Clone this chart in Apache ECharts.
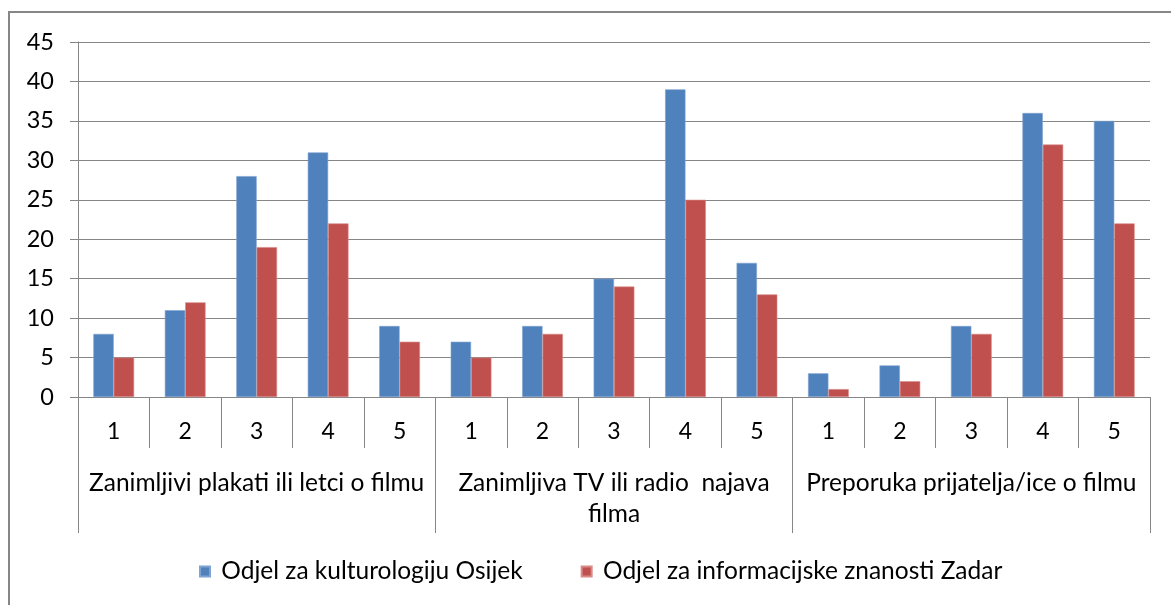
<!DOCTYPE html>
<html>
<head>
<meta charset="utf-8">
<script src="https://cdn.jsdelivr.net/npm/echarts@6/dist/echarts.min.js"></script>
<style>
  html, body { margin: 0; padding: 0; background: #fff; }
  #chart { width: 1171px; height: 605px; }
</style>
</head>
<body>
<div id="chart"></div>
<script>
// Rating categories (1-5) within each question group
const ratings = ['1', '2', '3', '4', '5'];
const groups = [
  'Zanimljivi plakati ili letci o filmu',
  'Zanimljiva TV ili radio  najava\nfilma',
  'Preporuka prijatelja/ice o filmu'
];
const seriesNames = [
  'Odjel za kulturologiju Osijek',
  'Odjel za informacijske znanosti Zadar'
];
// Counts per group, ratings 1..5
const osijek = [8, 11, 28, 31, 9, 7, 9, 15, 39, 17, 3, 4, 9, 36, 35];
const zadar = [5, 12, 19, 22, 7, 5, 8, 14, 25, 13, 1, 2, 8, 32, 22];
const yTicks = { min: 0, max: 45, interval: 5 };

const categories = [];
groups.forEach(() => ratings.forEach(r => categories.push(r)));

const FONT = 'Lato';
const AXIS_GRAY = '#868686';

const chart = echarts.init(document.getElementById('chart'), null, { renderer: 'canvas' });
chart.setOption({
  animation: false,
  textStyle: { fontFamily: FONT, color: '#000' },
  graphic: [{
    type: 'rect',
    shape: { x: 9, y: 12, width: 1220, height: 700 },
    style: { fill: 'none', stroke: AXIS_GRAY, lineWidth: 2 },
    silent: true
  }],
  grid: { left: 78, right: 21, top: 42, bottom: 208, containLabel: false },
  legend: {
    data: seriesNames,
    left: 194,
    top: 554,
    icon: 'rect',
    itemWidth: 10,
    itemHeight: 10,
    itemGap: 58,
    formatter: name => ' ' + name,
    textStyle: { fontFamily: FONT, fontSize: 24.5, color: '#000' }
  },
  xAxis: [
    {
      type: 'category',
      data: categories,
      position: 'bottom',
      axisLine: { lineStyle: { color: AXIS_GRAY, width: 1 } },
      axisTick: { show: true, interval: 0, length: 51, lineStyle: { color: AXIS_GRAY } },
      axisLabel: { interval: 0, margin: 23, fontSize: 23, color: '#000', fontFamily: FONT }
    },
    {
      type: 'category',
      data: groups,
      position: 'bottom',
      axisLine: { show: false },
      axisTick: { show: true, interval: 0, length: 136, lineStyle: { color: AXIS_GRAY } },
      axisLabel: { interval: 0, margin: 71, fontSize: 24.5, lineHeight: 31, color: '#000', fontFamily: FONT, align: 'center' }
    }
  ],
  yAxis: {
    type: 'value',
    min: yTicks.min,
    max: yTicks.max,
    interval: yTicks.interval,
    axisLine: { show: true, lineStyle: { color: AXIS_GRAY } },
    axisTick: { show: true, length: 8, lineStyle: { color: AXIS_GRAY } },
    splitLine: { lineStyle: { color: AXIS_GRAY, width: 1 } },
    axisLabel: { margin: 24, fontSize: 23.5, color: '#000', fontFamily: FONT }
  },
  series: [
    {
      name: seriesNames[0],
      type: 'bar',
      xAxisIndex: 0,
      data: osijek,
      barGap: '0%',
      barCategoryGap: '43%',
      itemStyle: { color: '#4F81BD', borderColor: '#7fa3d0', borderWidth: 0.6 }
    },
    {
      name: seriesNames[1],
      type: 'bar',
      xAxisIndex: 0,
      data: zadar,
      barGap: '0%',
      barCategoryGap: '43%',
      itemStyle: { color: '#C0504D', borderColor: '#d98a88', borderWidth: 0.6 }
    }
  ]
});
</script>
</body>
</html>
